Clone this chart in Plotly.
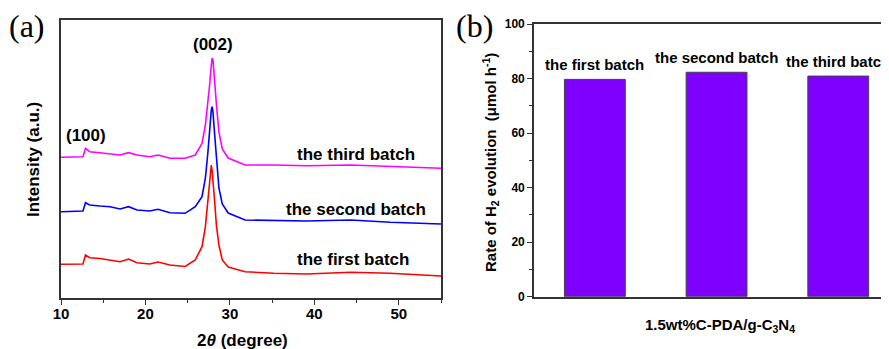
import plotly.graph_objects as go

# ---------------- data: panel (a) XRD ----------------
two_theta = [10, 11, 12, 12.6, 12.9, 13.4, 14.6, 15.8, 17.0, 18.0, 19.0, 20.5, 21.5, 22.9,
             24.7, 25.9, 26.7, 27.1, 27.4, 27.6, 27.8, 27.9, 28.0, 28.2, 28.4, 28.7, 29.1,
             29.8, 31.8, 35.2, 39.1, 44.3, 49, 55]
first_batch = [33.7, 33.7, 33.7, 34, 43, 40.3, 39.5, 38, 36.3, 39, 35.3, 34, 36, 33,
               31.5, 38, 51.3, 71.3, 98, 118, 133, 127, 118, 96, 73, 53, 38,
               31, 26.3, 24.7, 24, 25.7, 24.7, 22]
second_batch = [86.3, 86.3, 86.5, 87, 95.3, 93, 92, 91.3, 89, 91.3, 88, 87, 88.7, 85.3,
                84.7, 91.3, 101.3, 120, 146, 170, 188, 191.3, 186, 163, 138, 110, 94,
                85, 78, 77.3, 77, 78, 75.7, 74]
third_batch = [140.7, 141, 141, 141.3, 149.7, 146.3, 145.3, 144, 143, 145.3, 143, 141.3, 143, 139.7,
               139.7, 143, 154.7, 173, 194, 213, 233, 240, 238, 220, 194, 166, 149,
               140, 133, 133, 132.3, 133, 131.3, 129.7]
batch_names = ["the first batch", "the second batch", "the third batch"]
xrd_ticks = [10, 20, 30, 40, 50]

# ---------------- data: panel (b) H2 evolution ----------------
bar_pos = [1, 2, 3]
h2_rate = [79.7, 82.3, 80.9]
rate_ticks = [0, 20, 40, 60, 80, 100]

W, H = 889, 349
OFF = 8  # page body margin offset
FONT = "Liberation Sans, Arial, sans-serif"
AX = "#333333"


def px(x):
    return (x - OFF) / W


def py(y):
    return 1 - (y - OFF) / H


fig = go.Figure()

colors = ["#FF0000", "#0000FF", "#FF00FF"]
for name, ys, c in zip(batch_names, [first_batch, second_batch, third_batch], colors):
    fig.add_trace(go.Scatter(x=two_theta, y=ys, mode="lines", name=name,
                             line=dict(color=c, width=1.6), xaxis="x", yaxis="y",
                             showlegend=False))

fig.add_trace(go.Bar(x=bar_pos, y=h2_rate, width=0.5, xaxis="x2", yaxis="y2",
                     marker=dict(color="#8000FF", line=dict(color="#444444", width=1)),
                     showlegend=False))

tickfont = dict(family=FONT, size=15, color="black", weight="bold")

fig.update_layout(
    width=W, height=H,
    margin=dict(l=0, r=0, t=0, b=0, autoexpand=False),
    paper_bgcolor="white", plot_bgcolor="white",
    xaxis=dict(domain=[px(61), px(441)], range=[10, 55], tickvals=xrd_ticks,
               ticks="outside", ticklen=5, tickwidth=1.3, tickcolor=AX,
               minor=dict(dtick=5, tick0=0, ticks="outside", ticklen=3, tickcolor=AX, tickwidth=1.2),
               showline=True, linecolor=AX, linewidth=1.6, mirror=True,
               showgrid=False, zeroline=False, tickfont=tickfont, anchor="y", automargin=False,
               ticklabelstandoff=-4),
    yaxis=dict(domain=[py(298), py(20)], range=[0, 278], showticklabels=False,
               ticks="", showline=True, linecolor=AX, linewidth=1.6, mirror=True,
               showgrid=False, zeroline=False, anchor="x", automargin=False),
    xaxis2=dict(domain=[px(534), 1.0], range=[0.5, 0.5 + (W + OFF - 534) / 121.7],
                showticklabels=False, ticks="", showline=True, linecolor=AX,
                linewidth=1.6, mirror=True, showgrid=False, zeroline=False, anchor="y2",
                automargin=False),
    yaxis2=dict(domain=[py(296.7), py(24)], range=[0, 100], tickvals=rate_ticks,
                ticks="outside", ticklen=5, tickwidth=1.3, tickcolor=AX,
                minor=dict(dtick=10, tick0=0, ticks="outside", ticklen=3, tickcolor=AX, tickwidth=1.2),
                showline=True, linecolor=AX, linewidth=1.6, mirror=False,
                showgrid=False, zeroline=False,
                tickfont=dict(family=FONT, size=12, color="black", weight="bold"),
                anchor="x2", automargin=False),
)

ann = []
lab = dict(family=FONT, size=17, color="black")
C = dict(showarrow=False, xanchor="center", yanchor="middle")
# panel (a) peak labels
ann.append(dict(x=28.02, y=253.5, xref="x", yref="y", text="<b>(002)</b>", font=lab, **C))
ann.append(dict(x=12.96, y=162.5, xref="x", yref="y", text="<b>(100)</b>", font=lab, **C))
# panel (a) batch labels
for name, (xx, yy) in zip(batch_names, [(44.63, 39), (44.98, 89), (44.98, 144)]):
    ann.append(dict(x=xx, y=yy, xref="x", yref="y", text="<b>%s</b>" % name, font=lab, **C))
# panel (b) bar labels
for xb, v, name in zip(bar_pos, h2_rate, batch_names):
    ann.append(dict(x=xb, y=v, xref="x2", yref="y2", text="<b>%s</b>" % name,
                    showarrow=False, xanchor="center", yanchor="bottom", yshift=4,
                    font=dict(family=FONT, size=15, color="black")))
# axis titles
ann.append(dict(x=px(242), y=py(340), xref="paper", yref="paper",
                text="<b>2<i>θ</i> (degree)</b>", font=lab, **C))
ann.append(dict(x=px(33), y=py(160), xref="paper", yref="paper", textangle=-90,
                text="<b>Intensity (a.u.)</b>", font=lab, **C))
ann.append(dict(x=px(720), y=py(325), xref="paper", yref="paper",
                text="<b>1.5wt%C-PDA/g-C<sub>3</sub>N<sub>4</sub></b>",
                font=dict(family=FONT, size=15, color="black"), **C))
ann.append(dict(x=px(490), y=py(162), xref="paper", yref="paper", textangle=-90,
                text="<b>Rate of H<sub>2</sub> evolution  (μmol h<sup>-1</sup>)</b>",
                font=dict(family=FONT, size=15, color="black"), **C))
# panel letters
serif = dict(family="Liberation Serif, Times New Roman, serif", size=32, color="black")
ann.append(dict(x=px(27), y=py(26), xref="paper", yref="paper", text="(a)", font=serif, **C))
ann.append(dict(x=px(474), y=py(26), xref="paper", yref="paper", text="(b)", font=serif, **C))

fig.update_layout(annotations=ann)

fig.write_html("out.html")
